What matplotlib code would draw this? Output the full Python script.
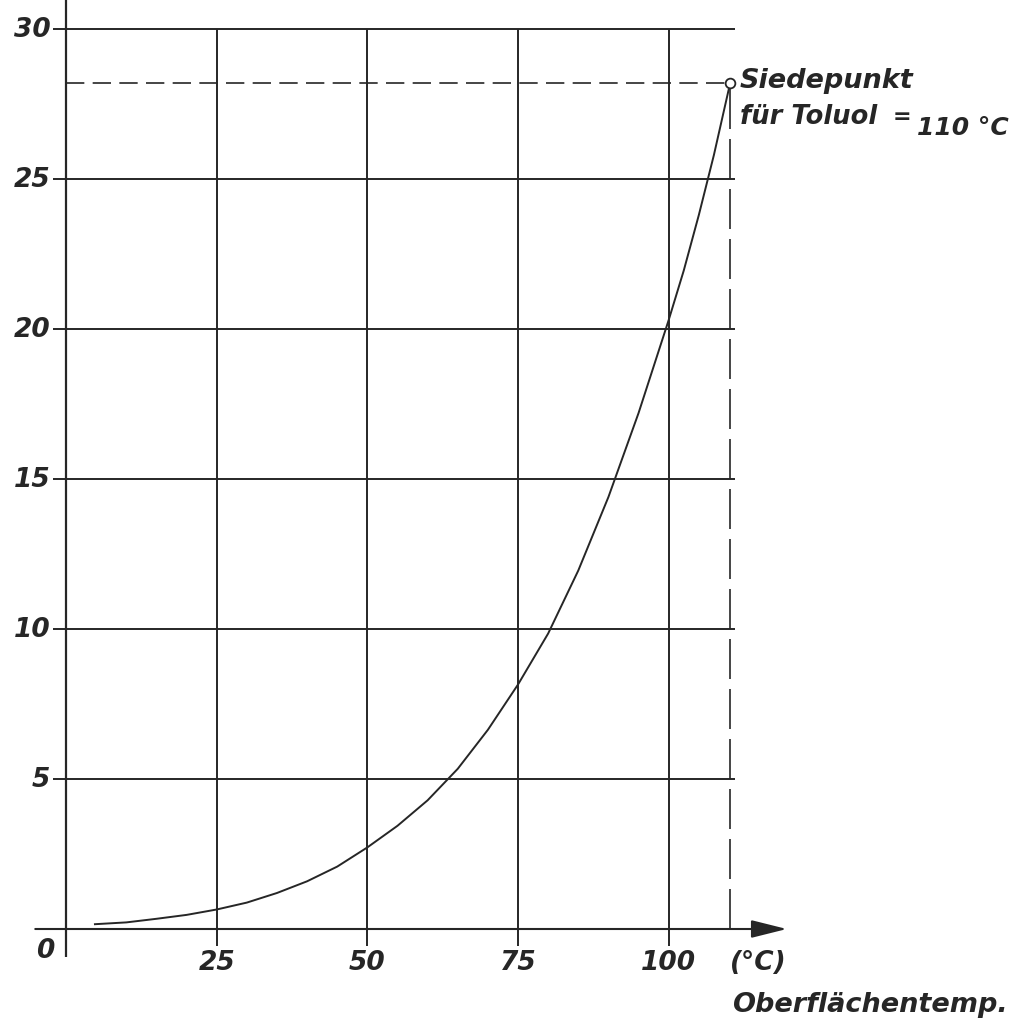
import numpy as np
import matplotlib
matplotlib.use("Agg")
import matplotlib.pyplot as plt

# values
temp = [4.8, 10, 15, 20, 25, 30, 35, 40, 45, 50, 55, 60, 65, 70, 75,
        80, 85, 90, 95, 100, 102.5, 105, 107.5, 110.2]
value = [0.16, 0.22, 0.34, 0.47, 0.65, 0.88, 1.2, 1.59, 2.08, 2.72, 3.44, 4.29,
         5.34, 6.64, 8.15, 9.85, 11.95, 14.4, 17.2, 20.3, 21.95, 23.8, 25.8, 28.2]

x_ticks = [25, 50, 75, 100]
x_tick_labels = ["25", "50", "75", "100"]
y_ticks = [5, 10, 15, 20, 25, 30]
y_tick_labels = ["5", "10", "15", "20", "25", "30"]

boil_temp = 110.2
boil_value = 28.2

ink = "#262626"
font = dict(family="DejaVu Sans", style="italic", weight="bold", color=ink)

fig = plt.figure(figsize=(10.28, 10.20), dpi=100)
ax = fig.add_axes([0, 0, 1, 1])
# 6.027 px per degree, 30 px per unit, origin at pixel (66, 930)
ax.set_xlim(-66 / 6.027, (1028 - 66) / 6.027)
ax.set_ylim(-90 / 30, 930 / 30)
ax.axis("off")

# grid
ax.hlines(y_ticks, -2.2, 111.0, color=ink, lw=1.4)
ax.vlines(x_ticks, -0.57, 30, color=ink, lw=1.4)
ax.vlines(0, -0.93, 31.2, color=ink, lw=1.6)

# x axis with arrow
ax.annotate("", xy=(119.6, 0), xytext=(-5.1, 0),
            arrowprops=dict(arrowstyle="-|>,head_length=2.2,head_width=0.55",
                            mutation_scale=10, lw=1.5, color=ink,
                            shrinkA=0, shrinkB=0))

# boiling point guides
ax.plot([0, boil_temp - 0.8], [boil_value, boil_value], color=ink, lw=1.2,
        linestyle=(0, (11, 5)))
ax.plot([boil_temp, boil_temp], [boil_value - 0.2, 0], color=ink, lw=1.2,
        linestyle=(0, (24, 6)))

# curve
ax.plot(temp, value, color=ink, lw=1.4)
ax.plot([boil_temp], [boil_value], "o", ms=7, mfc="white", mec=ink, mew=1.3)

# tick labels
for yv, lab in zip(y_ticks, y_tick_labels):
    ax.text(-2.6, yv, lab, ha="right", va="center", fontsize=19, **font)
ax.text(-1.9, -0.7, "0", ha="right", va="center", fontsize=19, **font)
for xv, lab in zip(x_ticks, x_tick_labels):
    ax.text(xv, -1.1, lab, ha="center", va="center", fontsize=19, **font)
ax.text(114.8, -1.1, "(°C)", ha="center", va="center", fontsize=19, **font)
ax.text(110.5, -2.72, "Oberflächentemp.", ha="left", va="baseline",
        fontsize=19.5, **font)

ax.text(111.8, 28.05, "Siedepunkt", ha="left", va="baseline", fontsize=19.5, **font)
ax.text(111.8, 26.85, "für Toluol", ha="left", va="baseline", fontsize=18.5, **font)
ax.text(137.1, 26.9, "=", ha="left", va="baseline", fontsize=16, **font)
ax.text(141.2, 26.5, "110 °C", ha="left", va="baseline", fontsize=18, **font)

fig.savefig("out.png", dpi=100, facecolor="white")
